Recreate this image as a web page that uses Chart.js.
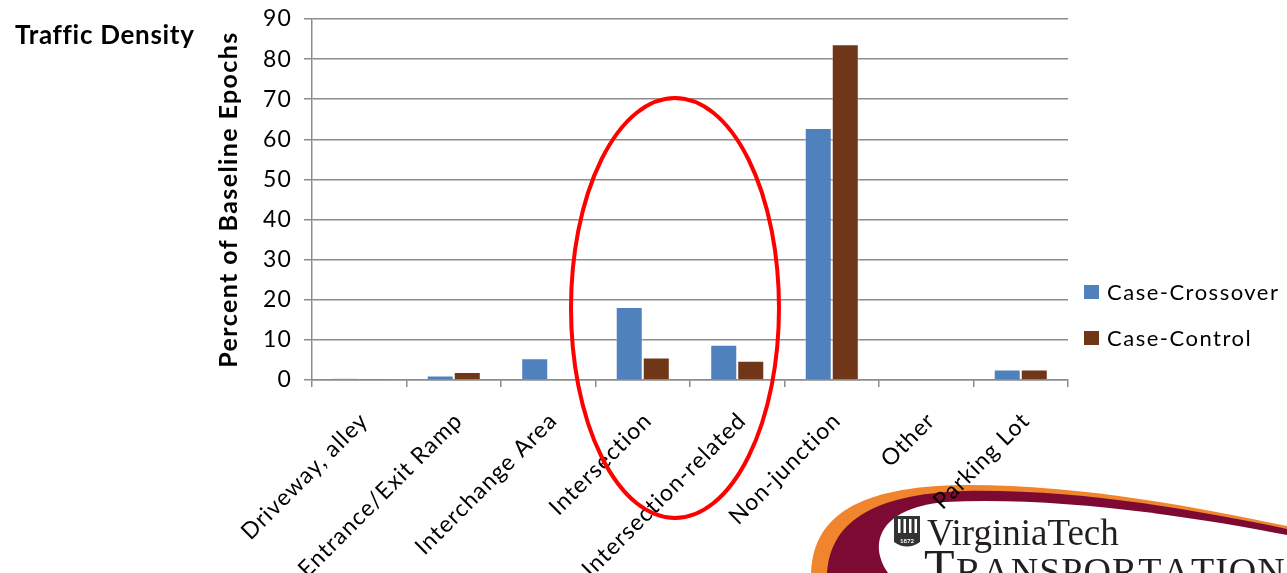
<!DOCTYPE html>
<html>
<head>
<meta charset="utf-8">
<title>Traffic Density</title>
<script src="https://cdn.jsdelivr.net/npm/chart.js@4.4.1/dist/chart.umd.min.js"></script>
<style>
  html, body { margin: 0; padding: 0; background: #ffffff; }
  #wrap { position: relative; width: 1287px; height: 573px; }
  canvas { display: block; }
</style>
</head>
<body>
<div id="wrap"><canvas id="chart" width="1287" height="573"></canvas></div>
<script>
// Relationship to junction, percent of baseline epochs
const categories = [
  'Driveway, alley',
  'Entrance/Exit Ramp',
  'Interchange Area',
  'Intersection',
  'Intersection-related',
  'Non-junction',
  'Other',
  'Parking Lot'
];
const caseCrossover = [0.4, 1.1, 5.4, 18.2, 8.8, 62.8, 0.0, 2.6];
const caseControl   = [0.25, 2.0, 0.2, 5.6, 4.8, 83.7, 0.2, 2.6];
const yTicks = [0, 10, 20, 30, 40, 50, 60, 70, 80, 90];

const seriesNames = ['Case-Crossover', 'Case-Control'];
const seriesColors = ['#4f81bd', '#6f3618'];

const FONT = 'Lato, "Open Sans", sans-serif';
const GRID = '#8c8c8c';
const TRACK = '1.1px';

// Wider letter spacing for all chart text
const spacing = {
  id: 'spacing',
  beforeUpdate(chart) { chart.ctx.letterSpacing = TRACK; }
};

// Title, rotated axis title
const titles = {
  id: 'titles',
  afterDraw(chart) {
    const ctx = chart.ctx;
    const a = chart.chartArea;
    ctx.save();
    ctx.fillStyle = '#000';
    ctx.letterSpacing = '0.7px';
    ctx.font = 'bold 26px ' + FONT;
    ctx.textBaseline = 'alphabetic';
    ctx.textAlign = 'left';
    ctx.fillText('Traffic Density', 15, 44);

    ctx.translate(237, (a.top + a.bottom) / 2);
    ctx.rotate(-Math.PI / 2);
    ctx.letterSpacing = '1.4px';
    ctx.font = 'bold 25px ' + FONT;
    ctx.textAlign = 'center';
    ctx.textBaseline = 'alphabetic';
    ctx.fillText('Percent of Baseline Epochs', 0, 0);
    ctx.restore();
  }
};

// Legend stacked to the right of the plot
const sideLegend = {
  id: 'sideLegend',
  afterDraw(chart) {
    const ctx = chart.ctx;
    const x0 = chart.chartArea.right + 16;
    const rows = [292, 338];
    ctx.save();
    chart.data.datasets.forEach((ds, i) => {
      const cy = rows[i];
      ctx.fillStyle = ds.backgroundColor;
      ctx.fillRect(x0, cy - 7, 15, 14);
      ctx.fillStyle = '#000';
      ctx.letterSpacing = '1.5px';
      ctx.font = '22px ' + FONT;
      ctx.textBaseline = 'middle';
      ctx.textAlign = 'left';
      ctx.fillText(ds.label, x0 + 23, cy + 1);
    });
    ctx.restore();
  }
};

// Red ring highlighting the intersection categories
const highlightRing = {
  id: 'highlightRing',
  afterDraw(chart) {
    const ctx = chart.ctx;
    ctx.save();
    ctx.strokeStyle = '#ff0000';
    ctx.lineWidth = 4;
    ctx.beginPath();
    ctx.ellipse(675, 308, 104, 210, 0, 0, Math.PI * 2);
    ctx.stroke();
    ctx.restore();
  }
};

// Institutional logo in the lower right corner, painted under the axis text
const logoPlugin = {
  id: 'logo',
  beforeDraw(chart) {
    const ctx = chart.ctx;
    ctx.save();
    ctx.letterSpacing = '0px';
    // orange outer band
    ctx.fillStyle = '#f0852d';
    ctx.beginPath();
    ctx.moveTo(811, 573);
    ctx.bezierCurveTo(813, 515, 860, 487, 960, 485);
    ctx.bezierCurveTo(1080, 484, 1200, 508, 1287, 526);
    ctx.lineTo(1287, 573);
    ctx.closePath();
    ctx.fill();
    // maroon band
    ctx.fillStyle = '#7c0a33';
    ctx.beginPath();
    ctx.moveTo(827, 573);
    ctx.bezierCurveTo(830, 524, 870, 494, 965, 491);
    ctx.bezierCurveTo(1080, 489, 1200, 511, 1287, 529);
    ctx.lineTo(1287, 573);
    ctx.closePath();
    ctx.fill();
    // white interior
    ctx.fillStyle = '#ffffff';
    ctx.beginPath();
    ctx.moveTo(888, 573);
    ctx.bezierCurveTo(868, 545, 878, 508, 945, 502);
    ctx.bezierCurveTo(1060, 496, 1200, 518, 1287, 535);
    ctx.lineTo(1287, 573);
    ctx.closePath();
    ctx.fill();
    // shield
    ctx.fillStyle = '#333';
    ctx.beginPath();
    ctx.moveTo(894, 516);
    ctx.lineTo(920, 516);
    ctx.lineTo(920, 542);
    ctx.quadraticCurveTo(907, 551, 894, 542);
    ctx.closePath();
    ctx.fill();
    ctx.fillStyle = '#fff';
    for (let i = 0; i < 4; i++) ctx.fillRect(898 + i * 5.5, 519, 2.5, 14);
    ctx.font = 'bold 6px ' + FONT;
    ctx.textAlign = 'center';
    ctx.textBaseline = 'middle';
    ctx.fillText('1872', 907, 541);
    // wordmark
    ctx.fillStyle = '#231f20';
    ctx.textAlign = 'left';
    ctx.textBaseline = 'alphabetic';
    ctx.font = '37px "Liberation Serif", "DejaVu Serif", serif';
    ctx.fillText('VirginiaTech', 927, 545);
    ctx.font = '50px "Liberation Serif", "DejaVu Serif", serif';
    ctx.fillText('T', 924, 584);
    ctx.font = '38px "Liberation Serif", "DejaVu Serif", serif';
    let x = 956;
    for (const ch of 'RANSPORTATION') {
      ctx.fillText(ch, x, 584);
      x += ctx.measureText(ch).width + 1;
    }
    ctx.restore();
  }
};

new Chart(document.getElementById('chart'), {
  type: 'bar',
  data: {
    labels: categories,
    datasets: seriesNames.map((name, i) => ({
      label: name,
      data: i === 0 ? caseCrossover : caseControl,
      backgroundColor: seriesColors[i],
      borderColor: 'rgba(255,255,255,0.35)',
      borderWidth: 1,
      categoryPercentage: 0.572,
      barPercentage: 1.0
    }))
  },
  options: {
    responsive: false,
    animation: false,
    devicePixelRatio: 1,
    layout: { padding: { left: 0, right: 219, top: 19, bottom: 0 } },
    plugins: {
      legend: { display: false },
      tooltip: { enabled: false },
      title: { display: false }
    },
    scales: {
      x: {
        afterFit(scale) { scale.height = 193; },
        grid: {
          offset: true,
          drawOnChartArea: false,
          drawTicks: true,
          tickLength: 7,
          color: GRID,
          lineWidth: 1.5
        },
        border: { display: true, color: GRID, width: 1.5 },
        ticks: {
          color: '#000',
          font: { family: FONT, size: 23 },
          minRotation: 45,
          maxRotation: 45,
          padding: 20,
          labelOffset: 5,
          autoSkip: false
        }
      },
      y: {
        min: 0,
        max: 90,
        afterFit(scale) {
          scale.width = 312;
          scale.paddingTop = 0;
          scale.paddingBottom = 0;
        },
        afterBuildTicks(scale) { scale.ticks = yTicks.map(v => ({ value: v })); },
        grid: {
          color: GRID,
          lineWidth: 1.5,
          drawTicks: true,
          tickLength: 8
        },
        border: { display: true, color: GRID, width: 1.5 },
        ticks: {
          color: '#000',
          font: { family: FONT, size: 23 },
          padding: 12
        }
      }
    }
  },
  plugins: [spacing, titles, sideLegend, highlightRing, logoPlugin]
});
</script>
</body>
</html>
